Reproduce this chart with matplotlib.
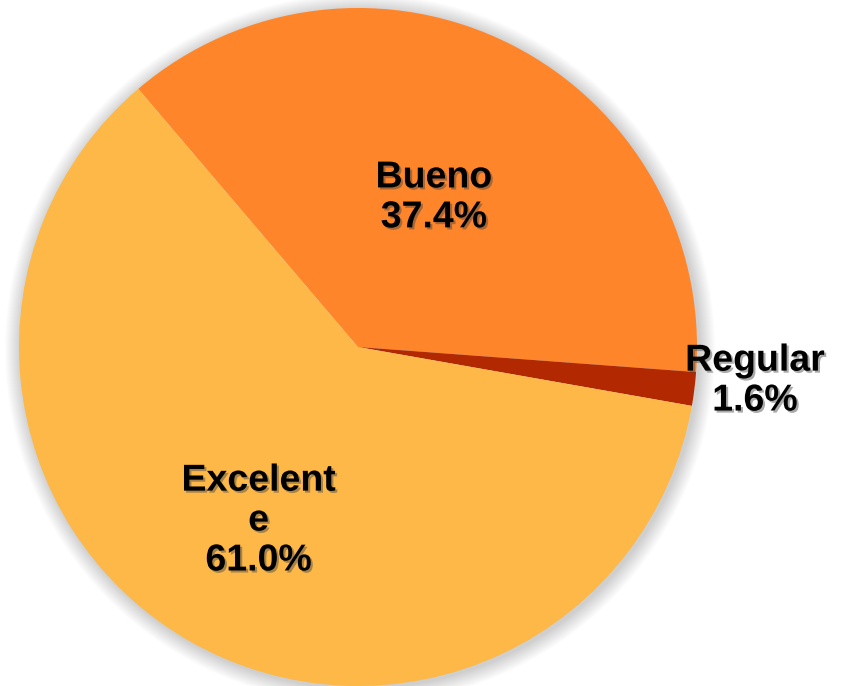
import numpy as np
import matplotlib.pyplot as plt
import matplotlib.patheffects as pe
from matplotlib.patches import Circle

# data
labels = ["Bueno", "Regular", "Excelent\ne"]
values = [37.4, 1.6, 61.0]
colors = ["#FE8529", "#B22800", "#FDB847"]
label_dist = [0.495, 1.18, 0.59]
label_dy = [0, 16, 0]   # small vertical nudge in pixels

fig = plt.figure(figsize=(8.41, 6.86), dpi=100)
ax = fig.add_axes([0, 0, 1, 1])

cx, cy, r = 358, 339, 339

# soft shadow around the pie
for i in range(16):
    ax.add_patch(Circle((cx + 2, cy - 2), r + 16 - i, color="#000000",
                        alpha=0.01, lw=0, zorder=0))

wedges, _ = ax.pie(values, colors=colors, startangle=130.4, counterclock=False,
                   center=(cx, cy), radius=r,
                   wedgeprops=dict(linewidth=0))

shadow = [pe.SimplePatchShadow(offset=(1.5, -1.5), shadow_rgbFace="#444444", alpha=0.45),
          pe.Normal()]
for w, lab, v, d, dy in zip(wedges, labels, values, label_dist, label_dy):
    ang = np.deg2rad((w.theta1 + w.theta2) / 2)
    x = cx + d * r * np.cos(ang)
    y = cy + d * r * np.sin(ang) + dy
    ax.text(x, y, f"{lab}\n{v:.1f}%", ha="center", va="center",
            fontsize=27, fontweight="bold", family="Liberation Sans",
            linespacing=1.14, path_effects=shadow, zorder=5)

ax.set_xlim(0, 841)
ax.set_ylim(0, 686)
ax.set_aspect("equal")
ax.axis("off")
fig.savefig("out.png", dpi=100)
